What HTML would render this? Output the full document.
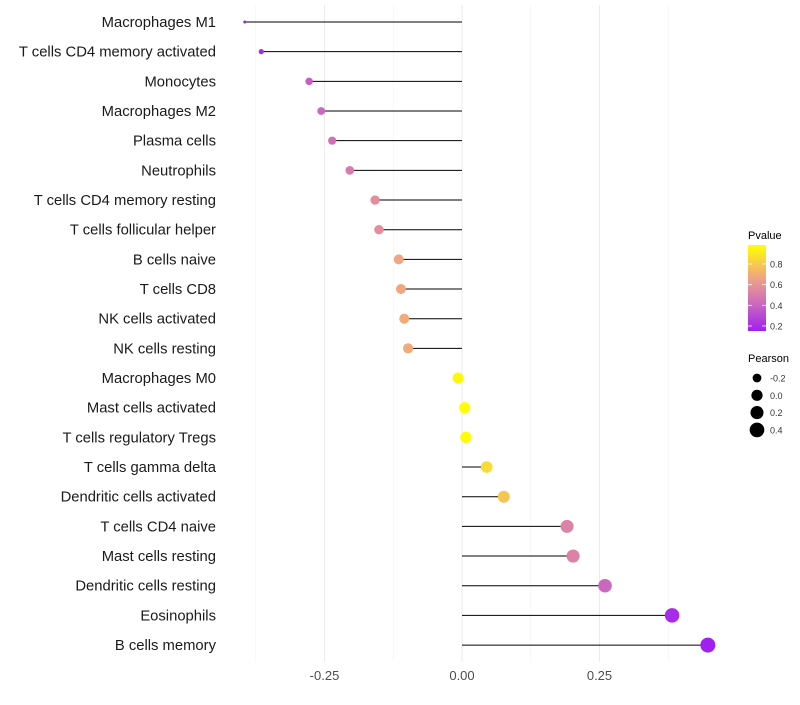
<!DOCTYPE html>
<html><head><meta charset="utf-8"><style>
body{margin:0;background:#fff;font-family:"Liberation Sans",sans-serif;}
svg text{font-family:"Liberation Sans",sans-serif;}
</style></head><body>
<svg id="chart" width="800" height="700">
<defs><linearGradient id="pg" x1="0" y1="1" x2="0" y2="0">
<stop offset="0" stop-color="#A020F0"/><stop offset="0.35" stop-color="#D070B8"/><stop offset="0.6" stop-color="#EEA08A"/><stop offset="1" stop-color="#FFFF00"/></linearGradient></defs>
<g id="grid"></g><g id="marks"></g><g id="labels"></g>
<g>
<text x="748" y="239" font-size="11" fill="#000">Pvalue</text>
<rect x="748" y="245" width="18" height="86" fill="url(#pg)"/>
<g id="pticks"></g></g>
<g>
<text x="748" y="362" font-size="11" fill="#000">Pearson</text>
<g id="sticks"></g></g>
</svg>
<script>
const categories=["Macrophages M1","T cells CD4 memory activated","Monocytes","Macrophages M2","Plasma cells","Neutrophils","T cells CD4 memory resting","T cells follicular helper","B cells naive","T cells CD8","NK cells activated","NK cells resting","Macrophages M0","Mast cells activated","T cells regulatory  Tregs ","T cells gamma delta","Dendritic cells activated","T cells CD4 naive","Mast cells resting","Dendritic cells resting","Eosinophils","B cells memory"];
const pearson=[-0.395,-0.365,-0.278,-0.256,-0.236,-0.204,-0.158,-0.151,-0.115,-0.111,-0.105,-0.098,-0.007,0.005,0.007,0.045,0.076,0.191,0.202,0.26,0.382,0.447];
const pvalue=[0.15,0.2,0.38,0.42,0.45,0.5,0.58,0.58,0.68,0.68,0.7,0.7,0.98,0.99,0.99,0.87,0.8,0.53,0.53,0.42,0.2,0.16];
const xTicks=[-0.25,0,0.25];
const xTickLabels=["-0.25","0.00","0.25"];
const pLegend=[0.8,0.6,0.4,0.2];
const sLegend=[-0.2,0.0,0.2,0.4];
const NS="http://www.w3.org/2000/svg";
const x=v=>462+v*550;
const y=i=>22+i*29.67;
const r=v=>1.5+6*Math.sqrt(Math.max(0,(v+0.395)/0.842));
const py=p=>326-(p-0.2)/0.6*62;
const stops=[[0.16,[160,32,240]],[0.45,[208,112,184]],[0.66,[238,160,138]],[1,[255,255,0]]];
function col(p){for(let k=0;k<stops.length-1;k++){const[a,ca]=stops[k],[b,cb]=stops[k+1];if(p<=b||k==stops.length-2){let t=Math.max(0,Math.min(1,(p-a)/(b-a)));return`rgb(${ca.map((c,j)=>Math.round(c+(cb[j]-c)*t)).join(",")})`;}}}
function mk(t,a,parent){const e=document.createElementNS(NS,t);for(const k in a)e.setAttribute(k,a[k]);document.getElementById(parent).appendChild(e);return e;}
[-0.375,-0.125,0.125,0.375].forEach(v=>{const l=mk("line",{x1:x(v),x2:x(v),y1:5,y2:662,stroke:"#f2f2f2","stroke-width":0.6},"grid");

});
xTicks.forEach((v,i)=>{const l=mk("line",{x1:x(v),x2:x(v),y1:5,y2:662,stroke:"#ebebeb","stroke-width":1},"grid");


const t=mk("text",{x:x(v),y:680,"font-size":13,"text-anchor":"middle",fill:"#4d4d4d"},"labels");t.textContent=xTickLabels[i];

});
categories.forEach((c,i)=>{const l=mk("line",{x1:x(0),x2:x(pearson[i]),y1:y(i),y2:y(i),stroke:"#000","stroke-width":1},"marks");


const p=mk("circle",{cx:x(pearson[i]),cy:y(i),r:r(pearson[i]),fill:col(pvalue[i])},"marks");


const t=mk("text",{x:216,y:y(i)+5,"font-size":14.8,"text-anchor":"end",fill:"#1a1a1a"},"labels");t.textContent=c;

});
pLegend.forEach(p=>{mk("line",{x1:748,x2:752,y1:py(p),y2:py(p),stroke:"#fff","stroke-width":0.8},"pticks");mk("line",{x1:762,x2:766,y1:py(p),y2:py(p),stroke:"#fff","stroke-width":0.8},"pticks");
const t=mk("text",{x:770,y:py(p)+3.5,"font-size":9,fill:"#333"},"pticks");t.textContent=p.toFixed(1);

});
sLegend.forEach((s,i)=>{const cy=378+i*17.3;const c=mk("circle",{cx:757,cy:cy,r:r(s),fill:"#000"},"sticks");


const t=mk("text",{x:770,y:cy+3.5,"font-size":9,fill:"#333"},"sticks");t.textContent=s.toFixed(1);

});
</script>
</body></html>
